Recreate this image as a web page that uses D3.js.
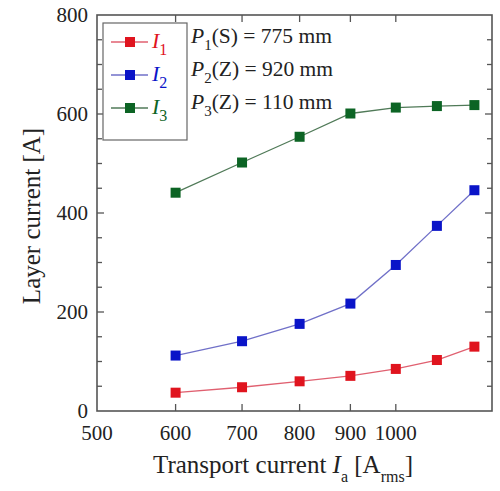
<!DOCTYPE html>
<html><head><meta charset="utf-8">
<script src="https://cdn.jsdelivr.net/npm/d3@7"></script>
<style>body{margin:0;background:#fff}svg{display:block}</style>
</head><body>
<svg id="c" width="500" height="491"></svg>
<script>
const xValues = [600, 700, 800, 900, 1000, 1100, 1200];
const I1 = [37, 48, 60, 71, 85, 103, 130];
const I2 = [112, 141, 176, 217, 295, 374, 446];
const I3 = [441, 502, 554, 601, 613, 616, 618];
const xTickLabels = [500, 600, 700, 800, 900, 1000];
const yTickLabels = [0, 200, 400, 600, 800];
const seriesNames = ["1", "2", "3"];
const paramLines = [["1", "(S) = 775 mm"], ["2", "(Z) = 920 mm"], ["3", "(Z) = 110 mm"]];

const series = [
  {name: seriesNames[0], values: I1, color: "#e0141e", line: "#e06070"},
  {name: seriesNames[1], values: I2, color: "#0a14c8", line: "#7070c8"},
  {name: seriesNames[2], values: I3, color: "#0c6424", line: "#507a58"}
];

const svg = d3.select("#c");
const font = "'Liberation Serif','Times New Roman',serif";
const x = d3.scaleLog().domain([500, 1250]).range([97, 492]);
const y = d3.scaleLinear().domain([0, 800]).range([411, 15]);
const axisColor = "#555";

// frame
svg.append("rect").attr("x", x.range()[0]).attr("y", y.range()[1])
  .attr("width", x.range()[1] - x.range()[0]).attr("height", y.range()[0] - y.range()[1])
  .attr("fill", "none").attr("stroke", axisColor).attr("stroke-width", 1.6);

// y ticks (major + minor), left and right inward
const yMinor = d3.range(0, 801, 50);
yMinor.forEach(v => {
  const major = v % 200 === 0;
  const len = major ? 7 : 5;
  if (v === 0 || v === 800) return;
  svg.append("line").attr("x1", x.range()[0]).attr("x2", x.range()[0] + len)
    .attr("y1", y(v)).attr("y2", y(v)).attr("stroke", axisColor).attr("stroke-width", 1.3);
  svg.append("line").attr("x1", x.range()[1]).attr("x2", x.range()[1] - len)
    .attr("y1", y(v)).attr("y2", y(v)).attr("stroke", axisColor).attr("stroke-width", 1.3);
});
// x ticks bottom and top inward
xTickLabels.slice(1).forEach(v => {
  svg.append("line").attr("x1", x(v)).attr("x2", x(v)).attr("y1", y.range()[0]).attr("y2", y.range()[0] - 7)
    .attr("stroke", axisColor).attr("stroke-width", 1.3);
  svg.append("line").attr("x1", x(v)).attr("x2", x(v)).attr("y1", y.range()[1]).attr("y2", y.range()[1] + 7)
    .attr("stroke", axisColor).attr("stroke-width", 1.3);
});

// tick labels
svg.append("g").selectAll("text").data(yTickLabels).join("text")
  .attr("x", 88).attr("y", d => y(d)).attr("dy", "0.35em").attr("text-anchor", "end")
  .attr("font-family", font).attr("font-size", 21).attr("fill", "#222").text(d => d);
svg.append("g").selectAll("text").data(xTickLabels).join("text")
  .attr("x", d => x(d)).attr("y", 440).attr("text-anchor", "middle")
  .attr("font-family", font).attr("font-size", 21).attr("fill", "#222").text(d => d);

// axis titles
const xt = svg.append("text").attr("x", 153).attr("y", 473).attr("text-anchor", "start")
  .attr("font-family", font).attr("font-size", 25).attr("fill", "#222");
xt.append("tspan").text("Transport current ");
xt.append("tspan").attr("font-style", "italic").text("I");
xt.append("tspan").attr("font-size", 16).attr("dy", 9).text("a");
xt.append("tspan").attr("dy", -9).text(" [A");
xt.append("tspan").attr("font-size", 16).attr("dy", 9).text("rms");
xt.append("tspan").attr("dy", -9).text("]");

svg.append("text").attr("transform", "translate(40,216) rotate(-90)").attr("text-anchor", "middle")
  .attr("font-family", font).attr("font-size", 25).attr("fill", "#222").text("Layer current [A]");

// series
const line = d3.line().x((d, i) => x(xValues[i])).y(d => y(d));
series.forEach(s => {
  svg.append("path").attr("d", line(s.values)).attr("fill", "none")
    .attr("stroke", s.line).attr("stroke-width", 1.3);
  svg.append("g").selectAll("rect").data(s.values).join("rect")
    .attr("x", (d, i) => x(xValues[i]) - 5).attr("y", d => y(d) - 5)
    .attr("width", 10).attr("height", 10).attr("fill", s.color);
});

// legend
svg.append("rect").attr("x", 103).attr("y", 23).attr("width", 84).attr("height", 117)
  .attr("fill", "#fff").attr("stroke", "#666").attr("stroke-width", 1.2);
series.forEach((s, i) => {
  const ly = 42 + i * 33;
  svg.append("line").attr("x1", 111).attr("x2", 148).attr("y1", ly).attr("y2", ly)
    .attr("stroke", s.line).attr("stroke-width", 1.3);
  svg.append("rect").attr("x", 125).attr("y", ly - 5).attr("width", 10).attr("height", 10).attr("fill", s.color);
  const t = svg.append("text").attr("x", 152).attr("y", ly + 6).attr("font-family", font)
    .attr("font-size", 22).attr("fill", s.color);
  t.append("tspan").attr("font-style", "italic").text("I");
  t.append("tspan").attr("font-size", 16).attr("dy", 7).text(s.name);
});
paramLines.forEach((p, i) => {
  const ly = 42 + i * 33;
  const t = svg.append("text").attr("x", 191).attr("y", ly + 1).attr("font-family", font)
    .attr("font-size", 21.5).attr("fill", "#222");
  t.append("tspan").attr("font-style", "italic").text("P");
  t.append("tspan").attr("font-size", 15).attr("dy", 7).text(p[0]);
  t.append("tspan").attr("dy", -7).text(p[1]);
});
</script>
</body></html>
